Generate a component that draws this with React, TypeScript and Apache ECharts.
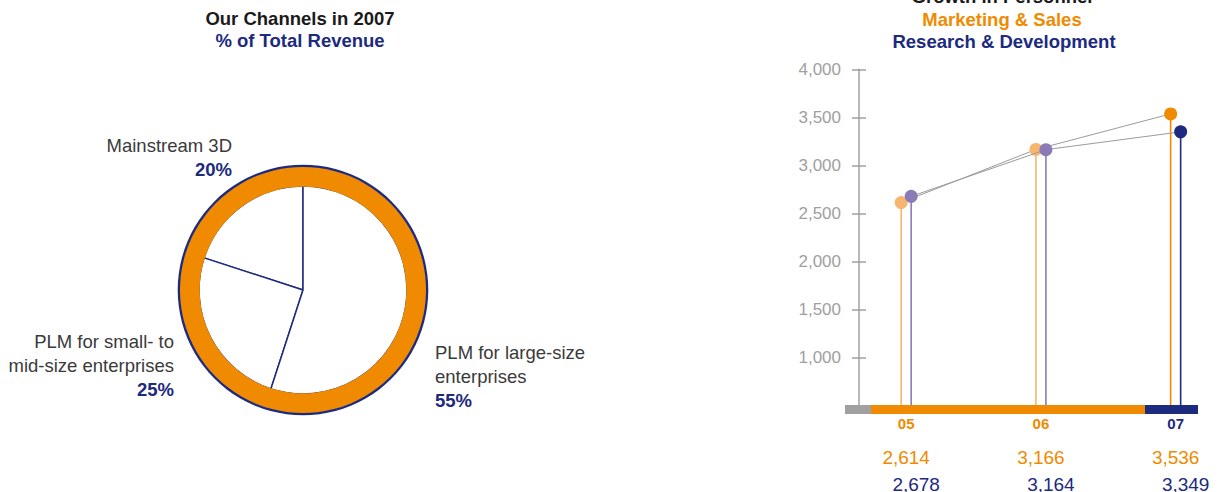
import React, { useEffect, useRef } from 'react';
import * as echarts from 'echarts';

// ---------- data ----------
const channelNames = ['Mainstream 3D', 'PLM for small- to\nmid-size enterprises', 'PLM for large-size\nenterprises'];
const channelShares = [20, 25, 55];

const years = ['05', '06', '07'];
const marketingSales = [2614, 3166, 3536];
const researchDev = [2678, 3164, 3349];
const yTicks = [1000, 1500, 2000, 2500, 3000, 3500, 4000];

// ---------- styles ----------
const ORANGE = '#f08a00';
const LIGHT_ORANGE = '#f7b670';
const NAVY = '#1c2a80';
const PURPLE = '#8a7bb7';
const GRAY = '#a0a0a0';
const LINE_GRAY = '#9b9b9b';
const TEXT_DARK = '#3a3a3a';
const FONT = '"Liberation Sans", Arial, Helvetica, sans-serif';
const mktColors = [LIGHT_ORANGE, LIGHT_ORANGE, ORANGE];
const rndColors = [PURPLE, PURPLE, NAVY];
const yearColors = [ORANGE, ORANGE, NAVY];

const Y_MIN = 500;
const Y_MAX = 4000;

function fmt(v: number): string {
  return String(v).replace(/\B(?=(\d{3})+(?!\d))/g, ',');
}

function personnelSeries(
  values: number[],
  colors: string[],
  dx: number,
  labelDx: number,
  labelDy: number,
  labelColor: string,
  showYear: boolean
): any {
  return {
    type: 'custom',
    xAxisIndex: 0,
    yAxisIndex: 0,
    silent: true,
    clip: false,
    data: values.map((v, i) => [i, v]),
    renderItem: (params: any, api: any) => {
      const i = api.value(0) as number;
      const v = api.value(1) as number;
      const p = api.coord([i, v]);
      const b = api.coord([i, Y_MIN]);
      const color = colors[i];
      const children: any[] = [];
      if (i < values.length - 1) {
        const q = api.coord([i + 1, values[i + 1]]);
        children.push({
          type: 'line',
          shape: { x1: p[0] + dx, y1: p[1], x2: q[0] + dx, y2: q[1] },
          style: { stroke: LINE_GRAY, lineWidth: 1 },
        });
      }
      children.push({
        type: 'line',
        shape: { x1: p[0] + dx, y1: p[1], x2: b[0] + dx, y2: b[1] },
        style: { stroke: color, lineWidth: 1.6 },
      });
      children.push({
        type: 'circle',
        shape: { cx: p[0] + dx, cy: p[1], r: 6.5 },
        style: { fill: color },
      });
      children.push({
        type: 'text',
        x: b[0] + labelDx,
        y: b[1] + labelDy,
        style: {
          text: fmt(v),
          fill: labelColor,
          fontSize: 19,
          fontFamily: FONT,
          align: 'center',
          verticalAlign: 'middle',
        },
      });
      if (showYear) {
        children.push({
          type: 'text',
          x: b[0],
          y: b[1] + 17.5,
          style: {
            text: years[i],
            fill: yearColors[i],
            fontSize: 15,
            fontWeight: 'bold',
            fontFamily: FONT,
            align: 'center',
            verticalAlign: 'middle',
          },
        });
      }
      return { type: 'group', children };
    },
  };
}

export default function App() {
  const ref = useRef<HTMLDivElement>(null);

  useEffect(() => {
    if (!ref.current) return;
    const chart = echarts.init(ref.current, undefined, { renderer: 'svg' });

    const titleStyle = (color: string) => ({
      fontSize: 18.5,
      fontWeight: 'bold' as const,
      fontFamily: FONT,
      color,
    });

    const gridBox = { left: 859, right: 14.4, top: 69.3, bottom: 86.3 };

    const option: any = {
      animation: false,
      backgroundColor: '#ffffff',
      title: [
        { text: 'Our Channels in 2007', left: 300, top: 9, textAlign: 'center', padding: 0, textStyle: titleStyle('#1a1a1a') },
        { text: '% of Total Revenue', left: 300, top: 31, textAlign: 'center', padding: 0, textStyle: titleStyle(NAVY) },
        { text: 'Growth in Personnel', left: 1002, top: -13, textAlign: 'center', padding: 0, textStyle: titleStyle('#1a1a1a') },
        { text: 'Marketing & Sales', left: 1002, top: 9.5, textAlign: 'center', padding: 0, textStyle: titleStyle(ORANGE) },
        { text: 'Research & Development', left: 1004, top: 32, textAlign: 'center', padding: 0, textStyle: titleStyle(NAVY) },
      ],
      grid: [
        { ...gridBox, containLabel: false },
        { ...gridBox, containLabel: false },
      ],
      xAxis: [
        { type: 'value', gridIndex: 0, min: -0.35, max: 2.2, show: false },
        { type: 'value', gridIndex: 1, min: -0.35, max: 2.2, show: false },
      ],
      yAxis: [
        {
          type: 'value',
          gridIndex: 0,
          min: Y_MIN,
          max: Y_MAX,
          interval: 500,
          position: 'left',
          axisLine: { show: true, onZero: false, lineStyle: { color: GRAY, width: 1.5 } },
          axisTick: { show: true, length: 7, lineStyle: { color: GRAY, width: 1.5 }, customValues: yTicks },
          axisLabel: {
            margin: 18,
            color: GRAY,
            fontSize: 17,
            fontFamily: FONT,
            customValues: yTicks,
            formatter: (v: number) => (v === Y_MIN ? '' : fmt(v)),
          },
          splitLine: { show: false },
        },
        {
          type: 'value',
          gridIndex: 1,
          min: Y_MIN,
          max: Y_MAX,
          interval: 500,
          position: 'left',
          axisLine: { show: false, onZero: false },
          axisTick: { show: true, inside: true, length: 7, lineStyle: { color: GRAY, width: 1.5 }, customValues: yTicks },
          axisLabel: { show: false },
          splitLine: { show: false },
        },
      ],
      graphic: [
        { type: 'rect', z: 100, silent: true, shape: { x: 845, y: 405, width: 26, height: 9 }, style: { fill: GRAY } },
        { type: 'rect', z: 100, silent: true, shape: { x: 871, y: 405, width: 274, height: 9 }, style: { fill: ORANGE } },
        { type: 'rect', z: 100, silent: true, shape: { x: 1145, y: 405, width: 53, height: 9 }, style: { fill: NAVY } },
      ],
      series: [
        {
          type: 'pie',
          center: [303, 290],
          radius: [0, 104],
          startAngle: 90,
          clockwise: false,
          silent: true,
          avoidLabelOverlap: false,
          itemStyle: { color: '#ffffff', borderColor: NAVY, borderWidth: 1.5 },
          label: {
            show: true,
            position: 'outside',
            formatter: (p: any) => `{n|${p.name}}\n{p|${p.value}%}`,
            rich: {
              n: { fontSize: 18.5, fontFamily: FONT, color: TEXT_DARK, lineHeight: 24 },
              p: { fontSize: 18.5, fontFamily: FONT, color: NAVY, fontWeight: 'bold', lineHeight: 24 },
            },
          },
          labelLine: { show: false },
          labelLayout: (params: any) => {
            const i = params.dataIndex;
            if (i === 0) return { x: 232, y: 133, align: 'right', verticalAlign: 'top' };
            if (i === 1) return { x: 174, y: 329, align: 'right', verticalAlign: 'top' };
            return { x: 435, y: 340, align: 'left', verticalAlign: 'top' };
          },
          data: channelNames.map((name, i) => ({ name, value: channelShares[i] })),
        },
        {
          type: 'pie',
          center: [303, 290],
          radius: [103.3, 123.5],
          silent: true,
          label: { show: false },
          labelLine: { show: false },
          itemStyle: { color: ORANGE, borderWidth: 0 },
          data: [{ name: 'ring', value: 1 }],
        },
        {
          type: 'pie',
          center: [303, 290],
          radius: [123, 125.3],
          silent: true,
          label: { show: false },
          labelLine: { show: false },
          itemStyle: { color: NAVY, borderWidth: 0 },
          data: [{ name: 'border', value: 1 }],
        },
        personnelSeries(marketingSales, mktColors, -5, 0, 51.5, ORANGE, true),
        personnelSeries(researchDev, rndColors, 5, 10, 78.5, NAVY, false),
      ],
    };

    chart.setOption(option);
    return () => {
      chart.dispose();
    };
  }, []);

  return (
    <div
      ref={ref}
      style={{ position: 'absolute', left: 0, top: 0, width: 1217, height: 492, background: '#fff' }}
    />
  );
}
